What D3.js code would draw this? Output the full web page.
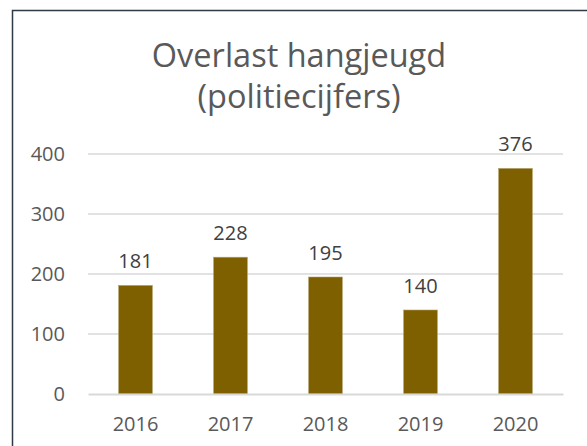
<!DOCTYPE html>
<html lang="nl">
<head>
<meta charset="utf-8">
<title>Overlast hangjeugd</title>
<script src="https://d3js.org/d3.v7.min.js"></script>
<style>
  body { margin: 0; background: #fff; }
  svg text { font-family: "Open Sans", Lato, sans-serif; }
</style>
</head>
<body>
<script>
// data
var years = ["2016", "2017", "2018", "2019", "2020"];
var counts = [181, 228, 195, 140, 376];
var yTicks = [0, 100, 200, 300, 400];
var titleLines = ["Overlast hangjeugd", "(politiecijfers)"];

var w = 587, h = 446;
var plotLeft = 88, plotRight = 563, plotTop = 154, plotBottom = 394;

var svg = d3.select("body").append("svg")
    .attr("width", w)
    .attr("height", h);

// chart frame (right and bottom edges fall outside the picture)
svg.append("rect")
    .attr("x", 12.5).attr("y", 10.5)
    .attr("width", 700).attr("height", 600)
    .attr("fill", "#fff")
    .attr("stroke", "#2e3a46")
    .attr("stroke-width", 1.5);

var x = d3.scaleBand()
    .domain(years)
    .range([plotLeft, plotRight])
    .paddingInner(0.645)
    .paddingOuter(0.3225);

var y = d3.scaleLinear()
    .domain([0, 400])
    .range([plotBottom, plotTop]);

// gridlines
svg.append("g")
  .selectAll("line")
  .data(yTicks.filter(function(d) { return d > 0; }))
  .enter().append("line")
    .attr("x1", plotLeft).attr("x2", plotRight)
    .attr("y1", function(d) { return y(d); })
    .attr("y2", function(d) { return y(d); })
    .attr("stroke", "#d9d9d9")
    .attr("stroke-width", 1.3);

// y axis labels
var yAxis = svg.append("g")
    .attr("transform", "translate(" + plotLeft + ",0)")
    .call(d3.axisLeft(y).tickValues(yTicks).tickSize(0).tickPadding(23));
yAxis.select(".domain").remove();
yAxis.selectAll("text")
    .attr("font-size", "20px")
    .attr("fill", "#595959")
    .attr("font-family", "'Open Sans', Lato, sans-serif");

// bars
svg.append("g")
  .selectAll("rect")
  .data(counts)
  .enter().append("rect")
    .attr("x", function(d, i) { return x(years[i]); })
    .attr("y", function(d) { return y(d); })
    .attr("width", x.bandwidth())
    .attr("height", function(d) { return y(0) - y(d); })
    .attr("fill", "#7f6000")
    .attr("stroke", "#b29f6a")
    .attr("stroke-width", 0.6);

// value labels
svg.append("g")
  .selectAll("text")
  .data(counts)
  .enter().append("text")
    .attr("x", function(d, i) { return x(years[i]) + x.bandwidth() / 2; })
    .attr("y", function(d) { return y(d) - 17; })
    .attr("text-anchor", "middle")
    .attr("font-size", "20px")
    .attr("fill", "#404040")
    .text(function(d) { return d; });

// x axis
var xAxis = svg.append("g")
    .attr("transform", "translate(0," + plotBottom + ")")
    .call(d3.axisBottom(x).tickSize(0).tickPadding(23));
xAxis.select(".domain")
    .attr("stroke", "#d9d9d9")
    .attr("stroke-width", 2);
xAxis.selectAll("text")
    .attr("font-size", "20px")
    .attr("fill", "#595959")
    .attr("font-family", "'Open Sans', Lato, sans-serif");

// title
svg.append("text")
    .attr("x", 299)
    .attr("y", 67)
    .attr("text-anchor", "middle")
    .attr("font-size", "32.5px")
    .attr("fill", "#595959")
  .selectAll("tspan")
  .data(titleLines)
  .enter().append("tspan")
    .attr("x", 299)
    .attr("dy", function(d, i) { return i === 0 ? 0 : 41; })
    .text(function(d) { return d; });
</script>
</body>
</html>
